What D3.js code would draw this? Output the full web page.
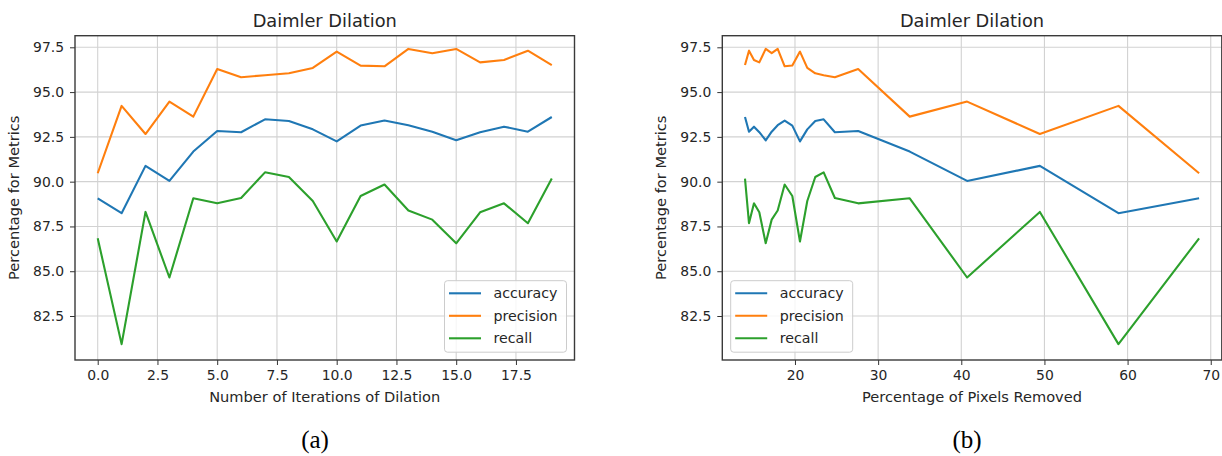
<!DOCTYPE html>
<html>
<head>
<meta charset="utf-8">
<script src="https://cdn.jsdelivr.net/npm/d3@7/dist/d3.min.js"></script>
<style>
  body { margin: 0; background: #fff; }
  text { font-family: "DejaVu Sans", sans-serif; fill: #262626; }
  .caption { font-family: "Liberation Serif", "Times New Roman", serif; fill: #000; }
</style>
</head>
<body>
<div id="chart"></div>
<script>
// data
const iterations = [0, 1, 2, 3, 4, 5, 6, 7, 8, 9, 10, 11, 12, 13, 14, 15, 16, 17, 18, 19];
const pixelsRemoved = [68.6, 58.9, 49.45, 40.7, 33.8, 27.6, 24.8, 23.45, 22.44, 21.48,
                       20.6, 19.68, 18.76, 17.92, 17.2, 16.48, 15.71, 15.07, 14.47, 13.99];
const accuracy = [89.07, 88.24, 90.88, 90.04, 91.68, 92.83, 92.76, 93.48, 93.39, 92.92,
                  92.25, 93.13, 93.41, 93.15, 92.79, 92.31, 92.76, 93.07, 92.79, 93.61];
const precision = [90.47, 94.23, 92.66, 94.47, 93.63, 96.29, 95.83, 95.94, 96.05, 96.35,
                   97.26, 96.48, 96.44, 97.41, 97.17, 97.41, 96.66, 96.79, 97.31, 96.51];
const recall = [86.84, 80.93, 88.31, 84.65, 89.07, 88.79, 89.09, 90.52, 90.26, 88.92,
                86.66, 89.20, 89.84, 88.39, 87.88, 86.56, 88.29, 88.79, 87.68, 90.17];
const seriesNames = ["accuracy", "precision", "recall"];
const yTicks = [82.5, 85.0, 87.5, 90.0, 92.5, 95.0, 97.5];
const xTicksA = [0, 2.5, 5, 7.5, 10, 12.5, 15, 17.5];
const xTicksB = [20, 30, 40, 50, 60, 70];

const width = 1222;
const height = 456;
const plotTop = 35.7, plotBottom = 360;
const colors = ["#1f77b4", "#ff7f0e", "#2ca02c"];
const values = [accuracy, precision, recall];

const svg = d3.select("#chart")
    .append("svg")
    .attr("width", width)
    .attr("height", height);

function panel(opt) {
    const x = d3.scaleLinear().domain(opt.xDomain).range([opt.left, opt.right]);
    const y = d3.scaleLinear().domain([80.044, 98.148]).range([plotBottom, plotTop]);
    const g = svg.append("g");

    // grid
    g.selectAll(".gx").data(opt.xTicks).enter().append("line")
        .attr("x1", d => x(d)).attr("x2", d => x(d))
        .attr("y1", plotTop).attr("y2", plotBottom)
        .attr("stroke", "#d2d2d2").attr("stroke-width", 1.1);
    g.selectAll(".gy").data(yTicks).enter().append("line")
        .attr("x1", opt.left).attr("x2", opt.right)
        .attr("y1", d => y(d)).attr("y2", d => y(d))
        .attr("stroke", "#d2d2d2").attr("stroke-width", 1.1);

    // axes
    const xa = g.append("g")
        .attr("transform", `translate(0, ${plotBottom})`)
        .call(d3.axisBottom(x).tickValues(opt.xTicks).tickFormat(opt.xFormat)
            .tickSize(5).tickPadding(5));
    const ya = g.append("g")
        .attr("transform", `translate(${opt.left}, 0)`)
        .call(d3.axisLeft(y).tickValues(yTicks).tickFormat(d3.format(".1f"))
            .tickSize(5).tickPadding(6));
    [xa, ya].forEach(a => {
        a.select(".domain").remove();
        a.selectAll("line").attr("stroke", "#333").attr("stroke-width", 1);
        a.selectAll("text").style("font-size", "13.9px").attr("fill", "#262626")
            .style("font-family", "DejaVu Sans");
    });
    xa.selectAll("text").attr("dy", "0.72em");

    // lines
    const line = d3.line().x(d => x(d[0])).y(d => y(d[1]));
    values.forEach((vals, i) => {
        g.append("path")
            .datum(opt.xs.map((xv, j) => [xv, vals[j]]))
            .attr("d", line)
            .attr("fill", "none")
            .attr("stroke", colors[i])
            .attr("stroke-width", 2.1)
            .attr("stroke-linejoin", "round");
    });

    // spines
    g.append("rect")
        .attr("x", opt.left).attr("y", plotTop)
        .attr("width", opt.right - opt.left).attr("height", plotBottom - plotTop)
        .attr("fill", "none").attr("stroke", "#3a3a3a").attr("stroke-width", 1.4);

    // title + labels
    const cx = (opt.left + opt.right) / 2;
    g.append("text").attr("x", cx).attr("y", 26.7)
        .attr("text-anchor", "middle").style("font-size", "17.8px")
        .text("Daimler Dilation");
    g.append("text").attr("x", cx).attr("y", 401.7)
        .attr("text-anchor", "middle").style("font-size", "14.6px")
        .text(opt.xLabel);
    g.append("text")
        .attr("transform", `translate(${opt.left - 56}, ${(plotTop + plotBottom) / 2}) rotate(-90)`)
        .attr("text-anchor", "middle").style("font-size", "14.6px")
        .text("Percentage for Metrics");

    // legend
    const lg = g.append("g").attr("transform", `translate(${opt.legendX}, 280.7)`);
    lg.append("rect").attr("width", 122).attr("height", 71.5).attr("rx", 3)
        .attr("fill", "#fff").attr("fill-opacity", 0.8)
        .attr("stroke", "#cccccc").attr("stroke-width", 1);
    seriesNames.forEach((name, i) => {
        const yy = 12.6 + i * 22.5;
        lg.append("line").attr("x1", 4.5).attr("x2", 36.5)
            .attr("y1", yy).attr("y2", yy)
            .attr("stroke", colors[i]).attr("stroke-width", 2.1);
        lg.append("text").attr("x", 49).attr("y", yy + 5)
            .style("font-size", "14.2px").text(name);
    });

    // caption
    svg.append("text").attr("class", "caption")
        .attr("x", opt.captionX).attr("y", 448)
        .attr("text-anchor", "middle").style("font-size", "25px")
        .text(opt.caption);
}

panel({
    left: 75, right: 574.5,
    xDomain: [-0.95, 19.95],
    xs: iterations, xTicks: xTicksA, xFormat: d3.format(".1f"),
    xLabel: "Number of Iterations of Dilation",
    legendX: 444.5, captionX: 315, caption: "(a)"
});

panel({
    left: 722.3, right: 1221.8,
    xDomain: [11.26, 71.33],
    xs: pixelsRemoved, xTicks: xTicksB, xFormat: d3.format("d"),
    xLabel: "Percentage of Pixels Removed",
    legendX: 730.7, captionX: 967, caption: "(b)"
});
</script>
</body>
</html>
